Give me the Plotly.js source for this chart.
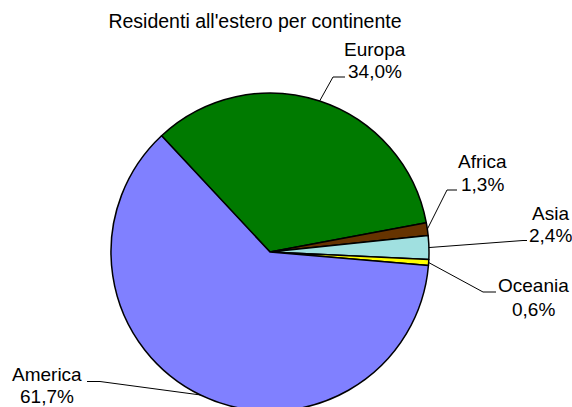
<!DOCTYPE html>
<html>
<head>
<meta charset="utf-8">
<script src="https://cdn.plot.ly/plotly-3.0.1.min.js"></script>
<style>
html,body{margin:0;padding:0;background:#fff;overflow:hidden;}
#wrap{width:572px;height:407px;overflow:hidden;}
</style>
</head>
<body>
<div id="wrap"><div id="chart"></div></div>
<script>
// ---- data ----
const continents = ['Europa', 'Africa', 'Asia', 'Oceania', 'America'];
const shares = [34.0, 1.3, 2.4, 0.6, 61.7];
const sliceColors = ['#007A00', '#663300', '#A0E0E0', '#FFFF00', '#8080FF'];
const chartTitle = "Residenti all'estero per continente";

// ---- layout geometry (pixels) ----
const W = 572, H = 420;
const M = {l: 111, r: 143, t: 93, b: 9};
const PW = W - M.l - M.r, PH = H - M.t - M.b;
const rotationDeg = -43;
// label placement (pixel centres of the two lines) and leader elbow/end points
const labelPos = [
  {x: 375, y1: 50, y2: 71.5, elbow: [333, 77], end: [345, 77]},
  {x: 482, y1: 161.5, y2: 184.5, elbow: [447, 190], end: [457, 190]},
  {x: 550, y1: 213, y2: 235, elbow: [523, 240.5], end: [527, 240.5]},
  {x: 533, y1: 285.5, y2: 309, elbow: [483, 292], end: [496, 292]},
  {x: 47, y1: 374, y2: 396, elbow: [100, 381.5], end: [87, 381.5]}
];

const px2x = p => (p - M.l) / PW;
const py2y = p => 1 - (p - M.t) / PH;

const total = shares.reduce((a, b) => a + b, 0);
const annotations = [];
const shapes = [];
let cum = 0;
shares.forEach((v, i) => {
  const mid = (rotationDeg + (cum + v / 2) / total * 360) * Math.PI / 180;
  cum += v;
  const tx = 0.5 + 0.5 * Math.sin(mid);
  const ty = 0.5 + 0.5 * Math.cos(mid);
  const lp = labelPos[i];
  shapes.push({
    type: 'path', xref: 'paper', yref: 'paper',
    path: 'M ' + tx + ',' + ty + ' L ' + px2x(lp.elbow[0]) + ',' + py2y(lp.elbow[1]) +
          ' L ' + px2x(lp.end[0]) + ',' + py2y(lp.end[1]),
    line: {color: '#000', width: 1}
  });
  const pct = v.toFixed(1).replace('.', ',') + '%';
  [[continents[i], lp.y1], [pct, lp.y2]].forEach(([t, y]) => {
    annotations.push({
      text: t, xref: 'paper', yref: 'paper',
      x: px2x(lp.x), y: py2y(y), xanchor: 'center', yanchor: 'middle',
      showarrow: false, font: {family: 'Liberation Sans, Arial, sans-serif', size: 19, color: '#000'}
    });
  });
});

const trace = {
  type: 'pie',
  labels: continents,
  values: shares,
  sort: false,
  direction: 'clockwise',
  rotation: rotationDeg,
  textinfo: 'none',
  hoverinfo: 'label+percent',
  marker: {colors: sliceColors, line: {color: '#000', width: 1.5}},
  domain: {x: [0, 1], y: [0, 1]}
};

const layout = {
  width: W, height: H,
  margin: M,
  paper_bgcolor: '#fff', plot_bgcolor: '#fff',
  showlegend: false,
  title: {
    text: chartTitle,
    font: {family: 'Liberation Sans, Arial, sans-serif', size: 19.5, color: '#000'},
    xref: 'container', yref: 'container',
    x: 255 / W, xanchor: 'center',
    y: 1 - 21.5 / H, yanchor: 'middle'
  },
  annotations: annotations,
  shapes: shapes
};

Plotly.newPlot('chart', [trace], layout, {displayModeBar: false, staticPlot: true});
</script>
</body>
</html>
